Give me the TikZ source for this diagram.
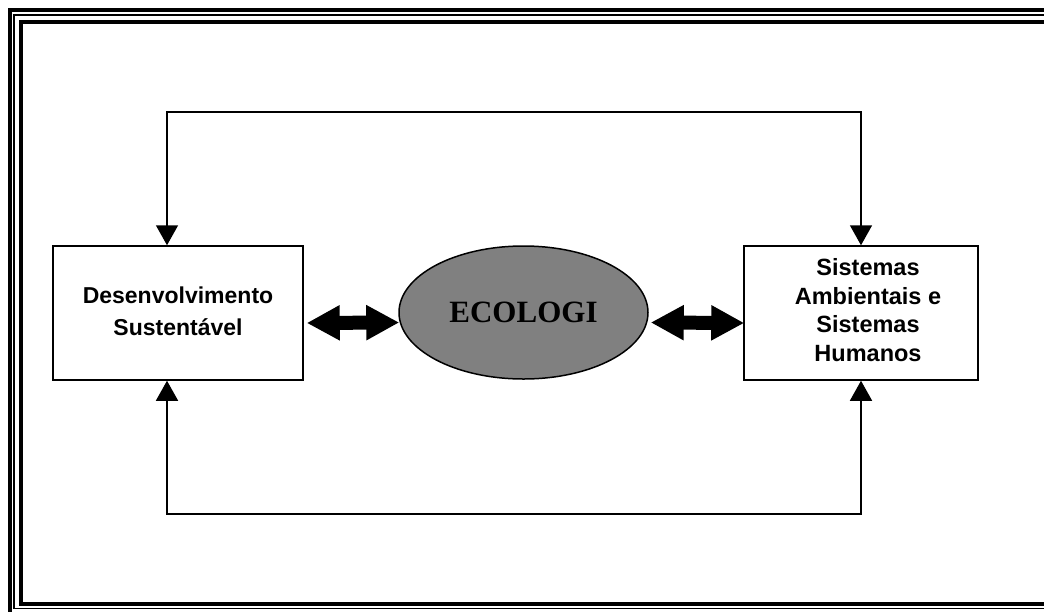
\documentclass[tikz,border=0pt]{standalone}
\usepackage{fontspec}
\setmainfont{Liberation Serif}
\newfontfamily\boxfont{Liberation Sans}
\usetikzlibrary{arrows.meta,shapes.geometric,calc}

\tikzset{
  frameouter/.style={line width=4pt},
  framethin/.style={line width=1.8pt},
  stagebox/.style={draw, line width=1.5pt, rectangle, inner sep=0pt,
    font=\boxfont\bfseries},
  hub/.style={draw, line width=1.5pt, ellipse, fill=hubgray, inner sep=0pt,
    font=\fontsize{31}{35}\selectfont\bfseries},
  loop/.style={line width=1.5pt,
    {Triangle[length=20pt,width=22pt]}-{Triangle[length=20pt,width=22pt]}},
  bigarrow/.style={line width=14pt,
    {Triangle[length=33pt,width=33pt]}-{Triangle[length=33pt,width=33pt]}}
}
\definecolor{hubgray}{HTML}{808080}

\begin{document}
\begin{tikzpicture}[x=1pt,y=-1pt]
  \useasboundingbox (0,0) rectangle (1044,611);
  \clip (0,0) rectangle (1044,611);

  % page frame: thick, thin, thick
  \draw[frameouter] (9.5,10) rectangle (1058,616);
  \draw[framethin] (14.3,14.8) rectangle (1053,608.4);
  \draw[frameouter] (21.3,22) rectangle (1046,603.8);

  % boxes and central ellipse
  \node[stagebox, minimum width=250pt, minimum height=134pt,
        font=\boxfont\bfseries\fontsize{23}{31.5}\selectfont]
        (dev) at (178,313)
        {\begin{tabular}{@{}c@{}}Desenvolvimento\\Sustentável\end{tabular}};
  \node[stagebox, minimum width=234pt, minimum height=134pt,
        font=\boxfont\bfseries\fontsize{23.5}{28.5}\selectfont]
        (sis) at (861,313)
        {\hspace*{14pt}\begin{tabular}{@{}c@{}}Sistemas\\Ambientais e\\Sistemas\\Humanos\end{tabular}};
  \node[hub, minimum width=249pt, minimum height=133pt]
        (eco) at (523.5,312.5) {ECOLOGI};

  % feedback loops above and below
  \coordinate (topy) at (500,112);
  \coordinate (boty) at (500,514);
  \draw[loop] ([xshift=-11pt]dev.north) |- (topy) -| (sis.north);
  \draw[loop] ([xshift=-11pt]dev.south) |- (boty) -| (sis.south);

  % two-way links to the ellipse
  \draw[bigarrow, shorten <=3pt] ($(dev.east)+(0,10)$) -- ($(eco.west)+(1,10)$);
  \draw[bigarrow] ($(eco.east)+(2,10)$) -- ($(sis.west)+(1,10)$);
\end{tikzpicture}
\end{document}
